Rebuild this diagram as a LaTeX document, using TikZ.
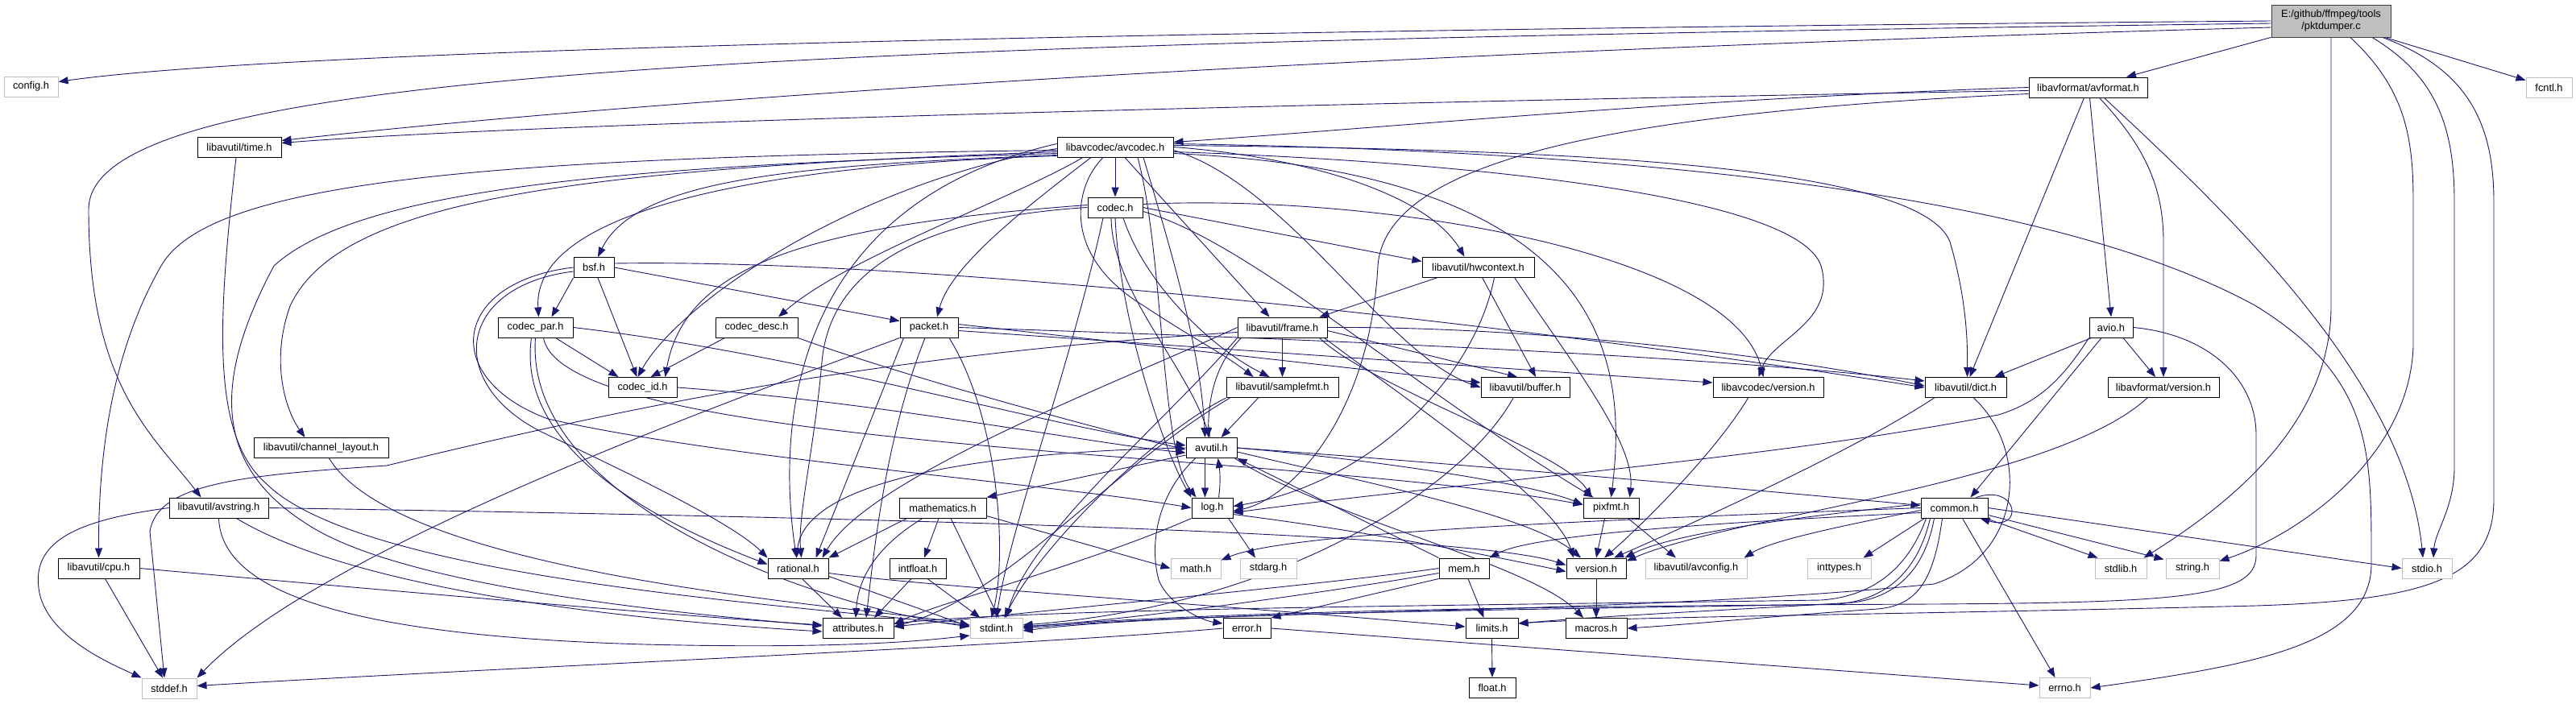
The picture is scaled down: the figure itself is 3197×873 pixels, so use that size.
\documentclass[tikz,border=0pt]{standalone}
\usepackage{fontspec}
\setmainfont{Liberation Sans}
\usetikzlibrary{arrows.meta,calc}
\definecolor{eblue}{HTML}{191970}
\definecolor{ugray}{HTML}{BFBFBF}
\definecolor{rfill}{HTML}{BFBFBF}
\definecolor{rdraw}{HTML}{404040}
\newcommand\nodefont{\fontsize{12.8}{15}\selectfont}
\pgfdeclarelayer{back}
\pgfdeclarelayer{edges}
\pgfsetlayers{back,edges,main}
\begin{document}
\begin{tikzpicture}[x=1pt,y=-1pt,
 nd/.style={draw=black,fill=white,line width=1pt,minimum height=25pt,inner sep=0pt,font=\nodefont},
 ud/.style={nd,draw=ugray},
 e/.style={draw=eblue,line width=0.9pt,-{Triangle[length=12pt,width=9pt]}}]
\begin{pgfonlayer}{back}
\fill[white] (0,0) rectangle (3197,873);
\end{pgfonlayer}
\useasboundingbox (0,0) rectangle (3197,873);

% ---------------- nodes ----------------
\node[nd,fill=rfill,draw=rdraw,minimum width=148pt,minimum height=40pt,align=center] (P) at (2893,26) {E:/github/ffmpeg/tools\\/pktdumper.c};
\node[ud,minimum width=67pt] (config) at (38.5,107.5) {config.h};
\node[ud,minimum width=57pt] (fcntl) at (3163.5,108.5) {fcntl.h};
\node[nd,minimum width=147pt] (avformat) at (2591.5,108.5) {libavformat/avformat.h};
\node[nd,minimum width=104pt] (time) at (297,182.5) {libavutil/time.h};
\node[nd,minimum width=144pt] (avcodec) at (1384,182.5) {libavcodec/avcodec.h};
\node[nd,minimum width=68pt] (codec) at (1384,257.5) {codec.h};
\node[nd,minimum width=50pt] (bsf) at (737,332) {bsf.h};
\node[nd,minimum width=139pt] (hwctx) at (1834.5,331.5) {libavutil/hwcontext.h};
\node[nd,minimum width=93pt] (cpar) at (664.5,406.5) {codec\_par.h};
\node[nd,minimum width=102pt] (cdesc) at (939,406.5) {codec\_desc.h};
\node[nd,minimum width=72pt] (packet) at (1153,406.5) {packet.h};
\node[nd,minimum width=111pt] (frame) at (1591.5,406.5) {libavutil/frame.h};
\node[nd,minimum width=54pt] (avio) at (2620,406.5) {avio.h};
\node[nd,minimum width=85pt] (cid) at (797.5,481) {codec\_id.h};
\node[nd,minimum width=139pt] (sfmt) at (1591.5,481) {libavutil/samplefmt.h};
\node[nd,minimum width=110pt] (buffer) at (1893,481) {libavutil/buffer.h};
\node[nd,minimum width=137pt] (lavcver) at (2194.5,481) {libavcodec/version.h};
\node[nd,minimum width=101pt] (dict) at (2439.5,481) {libavutil/dict.h};
\node[nd,minimum width=138pt] (lavfver) at (2685,481) {libavformat/version.h};
\node[nd,minimum width=167pt] (chl) at (398.5,556) {libavutil/channel\_layout.h};
\node[nd,minimum width=63pt] (avutil) at (1503.5,556) {avutil.h};
\node[nd,minimum width=123pt] (avstr) at (271.5,630.5) {libavutil/avstring.h};
\node[nd,minimum width=108pt] (mathh) at (1170,630.5) {mathematics.h};
\node[nd,minimum width=51pt] (log) at (1504.5,630.5) {log.h};
\node[nd,minimum width=69pt] (pixfmt) at (1999.5,630.5) {pixfmt.h};
\node[nd,minimum width=83pt] (common) at (2425.5,630.5) {common.h};
\node[nd,minimum width=101pt] (cpu) at (122.5,705.5) {libavutil/cpu.h};
\node[nd,minimum width=75pt] (rational) at (990.5,705.5) {rational.h};
\node[nd,minimum width=70pt] (intfloat) at (1139,705.5) {intfloat.h};
\node[ud,minimum width=62pt] (math) at (1484,705.5) {math.h};
\node[ud,minimum width=70pt] (stdarg) at (1574,705.5) {stdarg.h};
\node[nd,minimum width=62pt] (mem) at (1817,705.5) {mem.h};
\node[nd,minimum width=74pt] (version) at (1981,705.5) {version.h};
\node[ud,minimum width=126pt] (avconfig) at (2105,705.5) {libavutil/avconfig.h};
\node[ud,minimum width=79pt] (inttypes) at (2282.5,705.5) {inttypes.h};
\node[ud,minimum width=64pt] (stdlib) at (2632,705.5) {stdlib.h};
\node[ud,minimum width=66pt] (string) at (2721,705.5) {string.h};
\node[ud,minimum width=62pt] (stdio) at (3012,705.5) {stdio.h};
\node[nd,minimum width=88pt] (attrib) at (1065,780) {attributes.h};
\node[ud,minimum width=65pt] (stdint) at (1236.5,780) {stdint.h};
\node[nd,minimum width=59pt] (error) at (1547.5,780) {error.h};
\node[nd,minimum width=65pt] (limits) at (1851.5,780) {limits.h};
\node[nd,minimum width=76pt] (macros) at (1981,780) {macros.h};
\node[ud,minimum width=68pt] (stddef) at (210,854.5) {stddef.h};
\node[nd,minimum width=58pt] (float) at (1852,854) {float.h};
\node[ud,minimum width=63pt] (errno) at (2562.5,854) {errno.h};

% ---------------- edges ----------------
\begin{pgfonlayer}{edges}
% pktdumper.c
\draw[e] (P.west) .. controls (1400,38) and (350,62) .. ($(config.east)+(0,-6)$);
\draw[e] ($(P.west)+(0,3)$) .. controls (900,55) and (110,90) .. (110,260) .. controls (110,480) and (190,540) .. ($(avstr.north)+(-22,0)$);
\draw[e] ($(P.west)+(0,8)$) .. controls (1500,70) and (700,135) .. ($(time.east)+(0,-8)$);
\draw[e] (P) -- (avformat);
\draw[e] (P) -- (fcntl);
\draw[e] (P.south) -- (2893,380) .. controls (2893,530) and (2760,630) .. ($(stdlib.north east)+(-4,0)$);
\draw[e] ($(P.south)+(24,0)$) .. controls (2985,110) and (2995,170) .. (2995,250) -- (2995,430) .. controls (2990,570) and (2850,665) .. ($(string.north east)+(0,4)$);
\draw[e] ($(P.south)+(51,0)$) .. controls (3025,95) and (3046,160) .. (3046,250) -- (3046,580) .. controls (3046,630) and (3022,660) .. ($(stdio.north)+(8,0)$);
\draw[e] ($(P.south)+(64,0)$) .. controls (3060,85) and (3095,150) .. (3095,250) -- (3095,620) .. controls (3095,720) and (3010,745) .. (2800,752) .. controls (2400,762) and (2000,766) .. ($(limits.east)+(0,-6)$);
% avformat.h
\draw[e] (avformat.west) .. controls (2100,122) and (1700,160) .. ($(avcodec.east)+(0,-6)$);
\draw[e] ($(avformat.west)+(0,4)$) .. controls (1800,125) and (700,150) .. ($(time.east)+(0,-5)$);
\draw[e] ($(avformat.west)+(0,8)$) .. controls (2000,140) and (1720,200) .. (1710,330) .. controls (1700,520) and (1600,620) .. ($(log.east)+(0,4)$);
\draw[e] ($(avformat.south)+(-5,0)$) -- ($(dict.north)+(5,0)$);
\draw[e] ($(avformat.south)+(2,0)$) -- (avio.north);
\draw[e] ($(avformat.south)+(14,0)$) .. controls (2660,180) and (2685,230) .. (2685,300) -- (lavfver.north);
\draw[e] ($(avformat.south)+(20,0)$) .. controls (2760,260) and (2985,470) .. ($(stdio.north)+(-5,0)$);
% avcodec.h
\draw[e] (avcodec) -- (codec);
\draw[e] ($(avcodec.west)+(0,4)$) .. controls (600,195) and (260,225) .. (200,330) .. controls (140,435) and (122,560) .. (cpu.north);
\draw[e] ($(avcodec.west)+(0,6)$) .. controls (700,210) and (420,250) .. (360,380) .. controls (335,450) and (355,510) .. ($(chl.north)+(-20,0)$);
\draw[e] ($(avcodec.west)+(0,8)$) .. controls (800,205) and (450,230) .. (340,330) .. controls (260,480) and (270,580) .. (380,650) .. controls (500,730) and (850,762) .. ($(attrib.west)+(0,-3)$);
\draw[e] ($(avcodec.west)+(0,10)$) .. controls (1000,205) and (790,220) .. ($(bsf.north)+(5,0)$);
\draw[e] ($(avcodec.south west)+(0,-2)$) .. controls (950,205) and (660,260) .. ($(cpar.north)+(4,0)$);
\draw[e] ($(avcodec.south)+(-40,0)$) .. controls (1250,250) and (1050,320) .. ($(cdesc.north)+(27,0)$);
\draw[e] ($(avcodec.south)+(-30,0)$) .. controls (1270,260) and (1180,330) .. ($(packet.north)+(10,0)$);
\draw[e] ($(avcodec.south)+(12,0)$) -- ($(frame.north)+(-16,0)$);
\draw[e] (avcodec.east) .. controls (1620,195) and (1770,240) .. ($(hwctx.north)+(-17,0)$);
\draw[e] ($(avcodec.south)+(-15,0)$) .. controls (1330,235) and (1320,320) .. (1420,380) .. controls (1480,420) and (1520,440) .. ($(sfmt.north)+(-36,0)$);
\draw[e] ($(avcodec.south)+(35,0)$) .. controls (1450,300) and (1490,430) .. ($(avutil.north)+(-8,0)$);
\draw[e] ($(avcodec.east)+(0,4)$) .. controls (1600,230) and (1720,440) .. (buffer.west);
\draw[e] ($(avcodec.east)+(0,6)$) .. controls (1800,200) and (2230,240) .. (2260,330) .. controls (2280,400) and (2200,420) .. ($(lavcver.north)+(-12,0)$);
\draw[e] ($(avcodec.east)+(0,-2)$) .. controls (1900,185) and (2380,200) .. (2420,300) .. controls (2440,370) and (2442,420) .. ($(dict.north)+(2,0)$);
\draw[e] ($(avcodec.east)+(0,8)$) .. controls (2000,215) and (2020,450) .. (pixfmt.north);
\draw[e] ($(avcodec.south)+(28,0)$) .. controls (1445,320) and (1440,560) .. ($(log.north west)+(6,0)$);
\draw[e] ($(avcodec.west)+(0,-4)$) .. controls (1000,250) and (960,500) .. ($(rational.north)+(-2,0)$);
\draw[e] ($(avcodec.east)+(0,-4)$) .. controls (2200,190) and (2600,270) .. (2800,380) .. controls (2945,470) and (2943,560) .. (2943,700) .. controls (2943,800) and (2800,825) .. (errno.east);
\draw[e] ($(avcodec.west)+(0,2)$) .. controls (1050,230) and (840,380) .. ($(cid.north)+(-6,0)$);
% codec.h
\draw[e] ($(codec.south)+(-5,0)$) .. controls (1380,360) and (1470,450) .. ($(avutil.north)+(-2,0)$);
\draw[e] (codec.east) -- ($(hwctx.north west)+(0,6)$);
\draw[e] (codec.south) .. controls (1390,400) and (1445,560) .. (log.north west);
\draw[e] ($(codec.east)+(0,5)$) .. controls (1550,300) and (1750,480) .. ($(pixfmt.north)+(-22,0)$);
\draw[e] (codec.west) .. controls (1150,270) and (1030,330) .. (1020,450) .. controls (1010,560) and (990,640) .. ($(rational.north)+(4,0)$);
\draw[e] ($(codec.south)+(10,0)$) .. controls (1420,350) and (1500,430) .. ($(sfmt.north)+(-16,0)$);
\draw[e] ($(codec.south)+(-15,0)$) .. controls (1330,450) and (1255,650) .. (stdint.north);
\draw[e] ($(codec.west)+(0,-3)$) .. controls (1000,280) and (850,330) .. ($(cid.north)+(28,0)$);
\draw[e] ($(codec.east)+(0,-4)$) .. controls (1700,240) and (2150,310) .. ($(lavcver.north)+(-6,0)$);
% bsf.h
\draw[e] (bsf.south west) -- ($(cpar.north)+(20,0)$);
\draw[e] ($(bsf.south)+(5,0)$) -- ($(cid.north)+(-7,0)$);
\draw[e] (bsf.east) -- ($(packet.west)+(0,-8)$);
\draw[e] ($(bsf.east)+(0,-5)$) .. controls (1200,320) and (2000,420) .. (dict.west);
\draw[e] (bsf.west) .. controls (560,350) and (545,470) .. (680,520) .. controls (900,570) and (1300,600) .. (log.west);
\draw[e] ($(bsf.west)+(0,5)$) .. controls (565,355) and (550,480) .. (680,540) .. controls (850,620) and (920,660) .. (rational.north west);
% codec_par.h
\draw[e] ($(cpar.south)+(25,0)$) -- ($(cid.north)+(-30,0)$);
\draw[e] (cpar.east) .. controls (1000,440) and (1300,530) .. ($(avutil.west)+(0,-3)$);
\draw[e] ($(cpar.south)+(-5,0)$) .. controls (640,560) and (820,650) .. ($(rational.west)+(0,-5)$);
\draw[e] ($(cpar.south)+(10,0)$) .. controls (700,560) and (1600,560) .. ($(pixfmt.west)+(0,-4)$);
\draw[e] (cpar.south) .. controls (650,620) and (1000,750) .. ($(stdint.west)+(0,-2)$);
% codec_desc.h, codec_id.h
\draw[e] ($(cdesc.south west)+(12,0)$) -- ($(cid.north)+(10,0)$);
\draw[e] (cdesc.south east) .. controls (1100,460) and (1350,530) .. ($(avutil.west)+(0,2)$);
\draw[e] (cid.east) .. controls (1100,500) and (1350,550) .. ($(avutil.west)+(0,6)$);
% packet.h
\draw[e] (packet.south west) .. controls (900,500) and (400,680) .. (stddef.north east);
\draw[e] ($(packet.south)+(25,0)$) .. controls (1240,520) and (1250,690) .. ($(stdint.north)+(-6,0)$);
\draw[e] ($(packet.south)+(-5,0)$) .. controls (1100,540) and (1085,680) .. ($(attrib.north)+(10,0)$);
\draw[e] ($(packet.east)+(0,-4)$) -- ($(buffer.west)+(0,-6)$);
\draw[e] (packet.east) .. controls (1600,420) and (2100,440) .. ($(dict.west)+(0,-8)$);
\draw[e] ($(packet.east)+(0,4)$) -- ($(lavcver.west)+(0,-6)$);
\draw[e] ($(packet.south west)+(5,0)$) -- ($(rational.north)+(22,0)$);
% frame.h
\draw[e] ($(frame.west)+(0,6)$) .. controls (1100,440) and (800,500) .. (480,578) .. controls (300,590) and (195,600) .. (186,660) -- ($(stddef.north)+(-6,0)$);
\draw[e] (frame.south west) .. controls (1450,520) and (1280,660) .. ($(stdint.north)+(12,0)$);
\draw[e] ($(frame.south west)+(5,0)$) .. controls (1510,450) and (1500,490) .. ($(avutil.north)+(-4,0)$);
\draw[e] ($(frame.east)+(0,4)$) -- ($(buffer.north)+(-10,0)$);
\draw[e] (frame.east) .. controls (1900,405) and (2200,440) .. ($(dict.west)+(0,-2)$);
\draw[e] (frame.west) .. controls (1400,470) and (1080,590) .. ($(rational.north)+(30,0)$);
\draw[e] (frame.south) -- (sfmt.north);
\draw[e] ($(frame.south east)+(-10,0)$) .. controls (1700,480) and (1940,560) .. ($(pixfmt.north)+(-24,0)$);
\draw[e] ($(frame.south east)+(-4,0)$) .. controls (1750,500) and (1930,620) .. ($(version.north)+(-28,0)$);
% hwcontext.h
\draw[e] ($(hwctx.south west)+(20,0)$) -- ($(frame.north east)+(-10,0)$);
\draw[e] ($(hwctx.south)+(5,0)$) -- ($(buffer.north)+(13,0)$);
\draw[e] ($(hwctx.south)+(20,0)$) .. controls (1830,470) and (1700,600) .. ($(log.east)+(0,-2)$);
\draw[e] ($(hwctx.south east)+(-25,0)$) .. controls (1950,450) and (2030,550) .. ($(pixfmt.north)+(23,0)$);
% avio.h
\draw[e] (avio.east) .. controls (2740,415) and (2800,470) .. (2800,540) -- (2800,690) .. controls (2800,742) and (2700,748) .. (2400,750) .. controls (1900,752) and (1500,760) .. ($(stdint.east)+(0,-2)$);
\draw[e] ($(avio.south)+(-12,0)$) -- ($(common.north)+(20,0)$);
\draw[e] ($(avio.south west)+(3,0)$) -- ($(dict.north)+(36,0)$);
\draw[e] (avio.south west) .. controls (2560,470) and (2530,500) .. (2480,515) .. controls (2200,570) and (1800,600) .. ($(log.east)+(0,6)$);
\draw[e] ($(avio.south)+(15,0)$) -- ($(lavfver.north)+(-10,0)$);
% channel_layout.h, time.h
\draw[e] ($(chl.south)+(10,0)$) .. controls (500,720) and (1100,755) .. ($(stdint.west)+(0,-4)$);
\draw[e] ($(time.south)+(-4,0)$) .. controls (270,400) and (262,540) .. (330,600) .. controls (450,720) and (1000,752) .. ($(stdint.west)+(0,-3)$);
% avstring.h
\draw[e] (avstr.west) .. controls (100,645) and (40,670) .. (48,730) .. controls (55,790) and (140,825) .. (stddef.north west);
\draw[e] (avstr.east) .. controls (800,638) and (1800,655) .. ($(version.west)+(0,-4)$);
\draw[e] (avstr.south) .. controls (275,740) and (450,790) .. (800,800) .. controls (1050,806) and (1150,795) .. ($(stdint.south west)+(0,-4)$);
\draw[e] ($(avstr.south)+(22,0)$) .. controls (420,720) and (700,765) .. ($(attrib.west)+(0,4)$);
% cpu.h
\draw[e] ($(cpu.south)+(8,0)$) -- ($(stddef.north)+(-8,0)$);
\draw[e] (cpu.east) .. controls (500,735) and (850,765) .. ($(attrib.west)+(0,-4)$);
% avutil.h
\draw[e] (avutil.east) .. controls (1800,575) and (2200,610) .. ($(common.west)+(0,-3)$);
\draw[e] ($(avutil.south west)+(12,0)$) .. controls (1440,610) and (1425,670) .. (1438,720) .. controls (1450,750) and (1490,770) .. ($(error.west)+(0,-6)$);
\draw[e] (avutil.west) .. controls (1250,560) and (1000,590) .. ($(rational.north)+(-2,0)$);
\draw[e] ($(avutil.east)+(0,5)$) .. controls (1700,600) and (1900,640) .. ($(version.north)+(-19,0)$);
\draw[e] ($(avutil.south east)+(-3,0)$) .. controls (1640,640) and (1900,700) .. ($(macros.north)+(-16,0)$);
\draw[e] ($(avutil.south west)+(0,-4)$) -- (mathh.north east);
\draw[e] ($(avutil.south)+(-8,0)$) -- ($(log.north)+(-9,0)$);
\draw[e] (avutil.east) .. controls (1700,570) and (1900,600) .. ($(pixfmt.west)+(0,-4)$);
% log.h
\draw[e] ($(log.north)+(8,0)$) .. controls (1515,600) and (1514,585) .. ($(avutil.south)+(8,0)$);
\draw[e] ($(log.south east)+(-6,0)$) -- ($(stdarg.north)+(-16,0)$);
\draw[e] (log.south west) .. controls (1350,700) and (1160,750) .. ($(attrib.east)+(0,-5)$);
\draw[e] ($(log.east)+(0,8)$) .. controls (1700,660) and (1850,690) .. ($(version.west)+(0,4)$);
% mathematics.h
\draw[e] ($(mathh.south west)+(10,0)$) -- (rational.north east);
\draw[e] ($(mathh.south)+(-5,0)$) -- ($(intfloat.north)+(8,0)$);
\draw[e] ($(mathh.south)+(-25,0)$) .. controls (1085,680) and (1065,720) .. ($(attrib.north)+(-3,0)$);
\draw[e] ($(mathh.south)+(10,0)$) -- ($(stdint.north)+(3,0)$);
\draw[e] ($(mathh.south east)+(0,-3)$) -- (math.west);
% rational.h, intfloat.h
\draw[e] ($(rational.south)+(5,0)$) -- ($(attrib.north)+(-20,0)$);
\draw[e] ($(rational.south east)+(0,-3)$) -- ($(stdint.west)+(0,-2)$);
\draw[e] ($(rational.east)+(0,6)$) .. controls (1150,728) and (1500,750) .. ($(limits.west)+(0,-2)$);
\draw[e] ($(intfloat.south)+(-8,0)$) -- ($(attrib.north)+(20,0)$);
\draw[e] ($(intfloat.south)+(12,0)$) -- ($(stdint.north)+(-20,0)$);
% samplefmt.h, buffer.h
\draw[e] ($(sfmt.south)+(-30,0)$) -- ($(avutil.north)+(12,0)$);
\draw[e] ($(sfmt.south west)+(5,0)$) .. controls (1380,580) and (1250,740) .. ($(attrib.east)+(0,-2)$);
\draw[e] (sfmt.south west) .. controls (1430,540) and (1290,680) .. ($(stdint.north)+(10,0)$);
\draw[e] ($(buffer.south)+(-15,0)$) .. controls (1820,600) and (1600,750) .. ($(stdint.east)+(0,-4)$);
% version headers, dict.h
\draw[e] ($(lavcver.south)+(-25,0)$) .. controls (2130,560) and (2040,650) .. ($(version.north)+(10,0)$);
\draw[e] ($(dict.south)+(10,0)$) .. controls (2520,560) and (2510,690) .. (2400,725) .. controls (2000,765) and (1500,755) .. ($(stdint.east)+(0,3)$);
\draw[e] ($(dict.south west)+(12,0)$) .. controls (2300,560) and (2100,650) .. ($(version.north)+(22,0)$);
\draw[e] ($(lavfver.south)+(-20,0)$) .. controls (2550,600) and (2150,640) .. ($(version.north east)+(0,4)$);
% pixfmt.h
\draw[e] ($(pixfmt.south)+(-8,0)$) -- (version.north);
\draw[e] ($(pixfmt.south east)+(-14,0)$) -- ($(avconfig.north)+(-25,0)$);
% common.h
\draw[e] ($(common.south)+(10,0)$) -- ($(errno.north)+(-12,0)$);
\draw[e] ($(common.south west)+(5,0)$) -- ($(inttypes.north)+(30,0)$);
\draw[e] ($(common.south)+(-25,0)$) .. controls (2390,700) and (2360,740) .. (2300,748) .. controls (2100,760) and (2000,764) .. ($(limits.east)+(0,-6)$);
\draw[e] (common.west) .. controls (2000,645) and (1600,660) .. ($(math.north east)+(0,3)$);
\draw[e] ($(common.south)+(-30,0)$) .. controls (2380,710) and (2340,745) .. (2280,750) .. controls (1900,757) and (1500,760) .. (stdint.east);
\draw[e] (common.east) -- (stdio.west);
\draw[e] ($(common.south east)+(-3,0)$) -- ($(stdlib.north west)+(4,0)$);
\draw[e] ($(common.south east)+(0,-4)$) -- ($(string.north west)+(-2,2)$);
\draw[e] ($(common.south)+(-35,0)$) .. controls (2370,700) and (2330,740) .. (2260,745) .. controls (1800,752) and (1300,755) .. ($(attrib.east)+(0,-6)$);
\draw[e] ($(common.south)+(-15,0)$) .. controls (2400,720) and (2380,752) .. (2330,756) .. controls (2200,765) and (2100,775) .. (macros.east);
\draw[e] ($(common.west)+(0,-5)$) .. controls (2250,640) and (2080,660) .. ($(version.north east)+(-2,0)$);
\draw[e] ($(common.west)+(0,3)$) .. controls (2300,650) and (2200,670) .. ($(avconfig.north east)+(-4,0)$);
\draw[e] ($(common.west)+(0,6)$) .. controls (2100,650) and (1900,665) .. (mem.north east);
\draw[e] ($(common.north east)+(-15,0)$) .. controls (2505,600) and (2512,660) .. ($(common.south east)+(-10,0)$);
% mem.h
\draw[e] ($(mem.south)+(5,0)$) -- ($(limits.north)+(-10,0)$);
\draw[e] (mem.south west) -- (error.north east);
\draw[e] (mem.west) .. controls (1650,725) and (1350,752) .. ($(attrib.east)+(0,-2)$);
\draw[e] ($(mem.west)+(0,6)$) .. controls (1650,735) and (1400,770) .. ($(stdint.east)+(0,-2)$);
\draw[e] (mem.north west) -- (avutil.south east);
% others
\draw[e] (version.south) -- (macros.north);
\draw[e] (error.east) -- ($(errno.west)+(0,-3)$);
\draw[e] (error.west) .. controls (1300,800) and (600,830) .. ($(stddef.east)+(0,-3)$);
\draw[e] (limits.south) -- (float.north);
\end{pgfonlayer}
\end{tikzpicture}
\end{document}
